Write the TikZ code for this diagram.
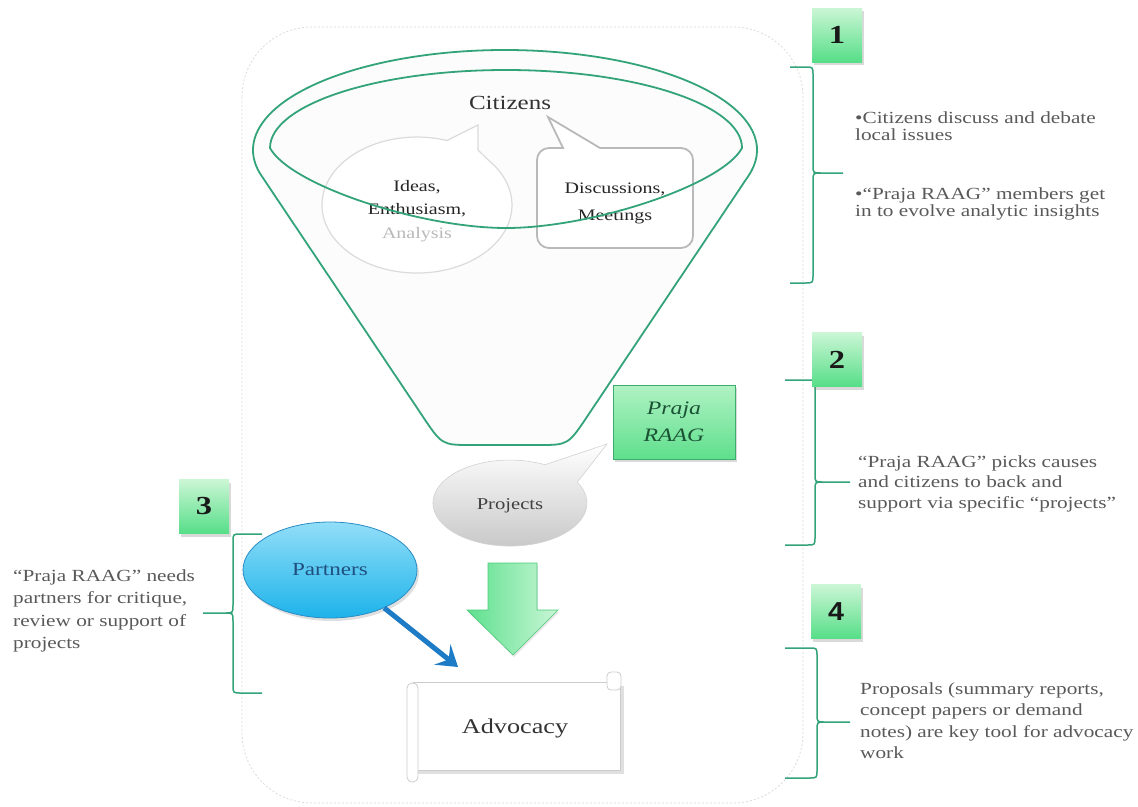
\documentclass[tikz,border=0pt]{standalone}
\usepackage{fontspec}
\setmainfont{Liberation Serif}[FakeStretch=1.25]
\newfontfamily\numsans{Liberation Sans}[FakeStretch=1.1]
\usetikzlibrary{shadows,arrows.meta,shapes.geometric}
\definecolor{fgreen}{HTML}{33A37A}
\definecolor{txtgray}{HTML}{595959}
\definecolor{numtop}{HTML}{CBF6D5}
\definecolor{numbot}{HTML}{56DE88}
\definecolor{prajatop}{HTML}{B0F2C4}
\definecolor{prajabot}{HTML}{5FDF8C}
\definecolor{prajaborder}{HTML}{3AAE6A}
\definecolor{prajatext}{HTML}{1A5233}
\definecolor{arrA}{HTML}{5EE08E}
\definecolor{arrB}{HTML}{C9F6D6}
\definecolor{arrborder}{HTML}{4CC97A}
\definecolor{parttop}{HTML}{92DEF8}
\definecolor{partbot}{HTML}{1DB3EA}
\definecolor{partborder}{HTML}{2B8CC4}
\definecolor{parttext}{HTML}{1F4F7F}
\definecolor{bluearr}{HTML}{1E7CC6}
% #1 vertical x, #2 end x, #3 top, #4 mid, #5 bottom, #6 tip x, #7 direction
\newcommand\bracegen[7]{%
  \draw[brace] (#2,#3) -- ({#1-8*#7},#3) .. controls (#1,#3) .. (#1,{#3+8})
    -- (#1,{#4-8}) .. controls (#1,#4) .. ({#1+8*#7},#4) -- (#6,#4)
    ({#1+8*#7},#4) .. controls (#1,#4) .. (#1,{#4+8})
    -- (#1,{#5-8}) .. controls (#1,#5) .. ({#1-8*#7},#5) -- (#2,#5);}
\begin{document}
\begin{tikzpicture}[x=1pt,y=-1pt,
  funnel/.style={draw=fgreen, line width=1.8pt},
  frame/.style={draw=gray!28, line width=0.8pt, dash pattern=on 2pt off 2pt},
  bubbletxt/.style={font=\fontsize{16}{23.5}\selectfont, align=center, text=black!85, inner sep=0pt},
  desc/.style={text=txtgray, align=left, inner sep=0pt, anchor=west},
  numbox/.style={minimum width=50pt, minimum height=54pt, top color=numtop, bottom color=numbot,
    font=\fontsize{26}{26}\selectfont\bfseries, text=black!90,
    drop shadow={shadow xshift=2pt, shadow yshift=-3pt, opacity=0.3}},
  brace/.style={draw=fgreen, line width=1.5pt},
]
\useasboundingbox (0,0) rectangle (1138,806);

% outer frame
\draw[frame, rounded corners=70pt] (242,27) rectangle (803,803);

% funnel
\draw[funnel, fill=gray!2] (261.6,175.9) -- (421.8,415) .. controls (441.8,445) .. (471,445)
  -- (539,445) .. controls (568.2,445) .. (588.2,415) -- (748.4,175.9)
  arc[start angle=15, end angle=-195, x radius=252, y radius=100] -- cycle;

% Ideas bubble
\draw[draw=gray!28, line width=1.2pt, fill=white] (478,125) -- (478,150) -- (489,160.7)
  arc[start angle=-40.7, end angle=288.4, x radius=95, y radius=68] -- cycle;
% Discussions bubble
\draw[draw=gray!55, line width=1.8pt, fill=white] (563,148) -- (548,117) -- (600,148) -- (681,148)
  arc[start angle=270, end angle=360, radius=12] -- (693,236)
  arc[start angle=0, end angle=90, radius=12] -- (549,248)
  arc[start angle=90, end angle=180, radius=12] -- (537,160)
  arc[start angle=180, end angle=270, radius=12] -- cycle;

\node[bubbletxt] (ideas) at (417,211) {Ideas,\\Enthusiasm,\\{\color{gray!55}Analysis}};
\node[bubbletxt, font=\fontsize{16}{27}\selectfont] (disc) at (615,203) {Discussions,\\Meetings};

% inner rim
\draw[funnel] (270,148) arc[start angle=180, end angle=360, x radius=236, y radius=78]
  .. controls (722,185) and (592,228) .. (506,228)
  .. controls (420,228) and (290,185) .. (270,148) -- cycle;
\node[font=\fontsize{20}{20}\selectfont, text=black!80] (citizens) at (510,103) {Citizens};

% Projects bubble
\draw[draw=gray!35, line width=0.6pt, top color=white, bottom color=gray!45] (607,444) -- (577.3,482.2)
  arc[start angle=-29, end angle=297, x radius=77, y radius=43] -- cycle;
\node[font=\fontsize{16.5}{16.5}\selectfont, text=black!75] (projects) at (510,506) {Projects};

% Praja RAAG box
\node[draw=prajaborder, line width=0.8pt, top color=prajatop, bottom color=prajabot,
  minimum width=122pt, minimum height=74pt, align=center, text=prajatext,
  font=\fontsize{19}{27}\selectfont\itshape,
  drop shadow={shadow xshift=2pt, shadow yshift=-3pt, opacity=0.3}] (praja) at (674,422) {Praja\\RAAG};

% green block arrow
\path[draw=arrborder, line width=0.6pt, left color=arrA, right color=arrB,
  drop shadow={shadow xshift=1pt, shadow yshift=-2pt, opacity=0.2}]
  (488,563) -- (537,563) -- (537,610) -- (558,610) -- (513,655) -- (467,610) -- (488,610) -- cycle;

% Advocacy scroll
\begin{scope}[draw=gray!40, line width=0.8pt]
\fill[black, opacity=0.12] (416,686) rectangle (624,774);
\draw[fill=white] (413,682) rectangle (620,770);
\draw[fill=white, rounded corners=4pt] (607,672) rectangle (621,690);
\draw[fill=white, rounded corners=5pt] (407,683) rectangle (418,782);
\end{scope}
\node[font=\fontsize{21}{21}\selectfont, text=black!80] (advocacy) at (515,728) {Advocacy};

% Partners
\node[ellipse, draw=partborder, line width=0.8pt, top color=parttop, bottom color=partbot,
  minimum width=174pt, minimum height=96pt, text=parttext, font=\fontsize{18.5}{18.5}\selectfont,
  drop shadow={shadow xshift=2pt, shadow yshift=-3pt, opacity=0.25}] (partners) at (330,570) {Partners};
\coordinate (blueend) at (458,667);
\draw[bluearr, line width=5pt, -{Stealth[length=20pt, width=26pt, inset=8pt]}] (partners.-35) -- (blueend);

% braces
\bracegen{813}{790}{67}{173}{283}{843}{1}
\bracegen{815}{785}{380}{482}{545}{850}{1}
\bracegen{817}{785}{648}{722}{778}{850}{1}
\bracegen{233}{262}{534}{613}{693}{203}{-1}

% number boxes
\node[numbox] (n1) at (837,35) {1};
\node[numbox] (n2) at (837,359.5) {2};
\node[numbox] (n3) at (204,506.5) {3};
\node[numbox] (n4) at (836,611.5) {\numsans 4};

% descriptions
\node[desc, font=\fontsize{17}{17}\selectfont] (d1) at (855,165.5)
  {•Citizens discuss and debate\\local issues\\[42pt]•“Praja RAAG” members get\\in to evolve analytic insights};
\node[desc, font=\fontsize{17}{20.5}\selectfont] (d2) at (858,483.5)
  {“Praja RAAG” picks causes\\and citizens to back and\\support via specific “projects”};
\node[desc, font=\fontsize{17}{22.5}\selectfont] (d3) at (13,610.8)
  {“Praja RAAG” needs\\partners for critique,\\review or support of\\projects};
\node[desc, font=\fontsize{17}{21.5}\selectfont] (d4) at (860,720.5)
  {Proposals (summary reports,\\concept papers or demand\\notes) are key tool for advocacy\\work};
\end{tikzpicture}
\end{document}
